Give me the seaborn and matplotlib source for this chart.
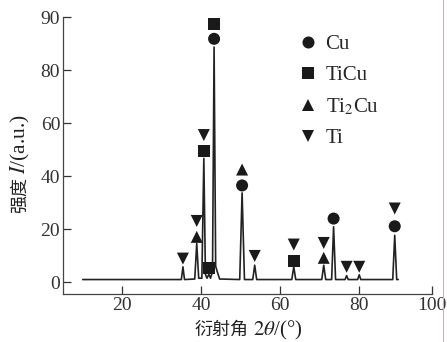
import pandas as pd
import seaborn as sns
import matplotlib.pyplot as plt
from matplotlib.lines import Line2D

# XRD profile vertices (2theta, intensity)
two_theta = [10.0, 35.0, 35.4, 35.8, 38.4, 38.9, 39.4, 40.2, 40.7, 41.1, 41.5, 42.0,
             42.4, 42.9, 43.3, 43.7, 44.1, 44.7, 49.8, 50.4, 51.0, 53.1, 53.6, 54.1,
             63.0, 63.5, 64.0, 70.6, 71.1, 71.6, 73.1, 73.6, 74.1, 76.5, 76.9, 77.3,
             79.7, 80.1, 80.5, 88.6, 89.1, 89.6, 90.0]
intensity = [1.0, 1.0, 5.8, 1.0, 1.2, 14.6, 1.5, 1.5, 46.7, 3.0, 1.5, 3.0,
             1.5, 4.0, 88.7, 6.0, 4.0, 1.2, 1.0, 33.7, 1.0, 1.0, 6.4, 1.0,
             1.0, 5.8, 1.0, 1.0, 6.4, 1.0, 1.0, 20.9, 1.0, 1.0, 2.5, 1.0,
             1.0, 2.8, 1.0, 1.0, 17.7, 1.0, 1.0]

# phase markers
cu_x = [43.3, 50.4, 73.6, 89.1]
cu_y = [91.8, 36.5, 24.0, 21.1]
ticu_x = [43.3, 40.7, 42.0, 63.5]
ticu_y = [97.5, 49.6, 5.4, 7.9]
ti2cu_x = [38.9, 50.4, 71.1]
ti2cu_y = [17.1, 42.5, 9.2]
ti_x = [35.4, 38.9, 40.7, 53.6, 63.5, 71.1, 76.9, 80.1, 89.1]
ti_y = [8.9, 23.1, 55.5, 9.9, 14.2, 14.8, 5.8, 5.8, 27.8]

phases = ['Cu', 'TiCu', 'Ti$_2$Cu', 'Ti']
yticks = [0, 20, 40, 60, 80, 100]
ytick_labels = ['0', '20', '40', '60', '80', '90']
xticks = [20, 40, 60, 80, 98.5]
xtick_labels = ['20', '40', '60', '80', '100']

profile = pd.DataFrame({'x': two_theta, 'y': intensity})
marks = pd.concat([
    pd.DataFrame({'x': cu_x, 'y': cu_y, 'phase': phases[0]}),
    pd.DataFrame({'x': ticu_x, 'y': ticu_y, 'phase': phases[1]}),
    pd.DataFrame({'x': ti2cu_x, 'y': ti2cu_y, 'phase': phases[2]}),
    pd.DataFrame({'x': ti_x, 'y': ti_y, 'phase': phases[3]}),
])

sns.set_style('ticks')
plt.rcParams['font.family'] = ['Liberation Serif', 'Noto Sans CJK SC']
plt.rcParams['mathtext.fontset'] = 'stix'
fs = 14

fig = plt.figure(figsize=(4.47, 3.42), dpi=100)
ax = fig.add_axes([0.141, 0.140, 0.825, 0.810])

sns.lineplot(data=profile, x='x', y='y', sort=False, color='#222222',
             linewidth=1.2, ax=ax)
sns.scatterplot(data=marks, x='x', y='y', style='phase', style_order=phases,
                markers={'Cu': 'o', 'TiCu': 's', 'Ti$_2$Cu': '^', 'Ti': 'v'},
                color='#1a1a1a', s=75, linewidth=0, ax=ax, zorder=3)

ax.set_xlim(5, 98.5)
ax.set_ylim(-4.5, 100)
ax.set_xticks(xticks, xtick_labels)
ax.set_yticks(yticks, ytick_labels)
ax.tick_params(direction='in', length=6, width=0.9, colors='#333333',
               labelsize=fs, pad=2)
for s in ['top', 'right']:
    ax.spines[s].set_visible(False)
for s in ['left', 'bottom']:
    ax.spines[s].set_color('#444444')
    ax.spines[s].set_linewidth(0.9)
ax.set_xlabel('')
ax.set_ylabel('')

# axis titles: Chinese part and math part as separate texts
cjk = ['Noto Sans CJK SC']
fig.text(0.557, 0.035, '衍射角', family=cjk, fontsize=13, ha='right', va='center', color='#222222')
fig.text(0.566, 0.035, '$\\mathit{2\\theta}$/(°)', fontsize=15, ha='left', va='center', color='#222222')
fig.text(0.045, 0.377, '强度', family=cjk, fontsize=13, rotation=90, ha='center', va='bottom', color='#222222')
fig.text(0.045, 0.490, '$I$/(a.u.)', fontsize=15.5, rotation=90, ha='center', va='bottom', color='#222222')

leg = ax.legend(loc='upper left', bbox_to_anchor=(0.596, 0.99), frameon=False,
                labelspacing=0.55, handletextpad=0.35, handlelength=1.0,
                borderpad=0.2, fontsize=15, markerscale=1.0)

fig.add_artist(Line2D([0.991, 0.991], [0.0, 1.0], color='#f4a0a8', linewidth=0.8))

plt.savefig('out.png', dpi=100)
